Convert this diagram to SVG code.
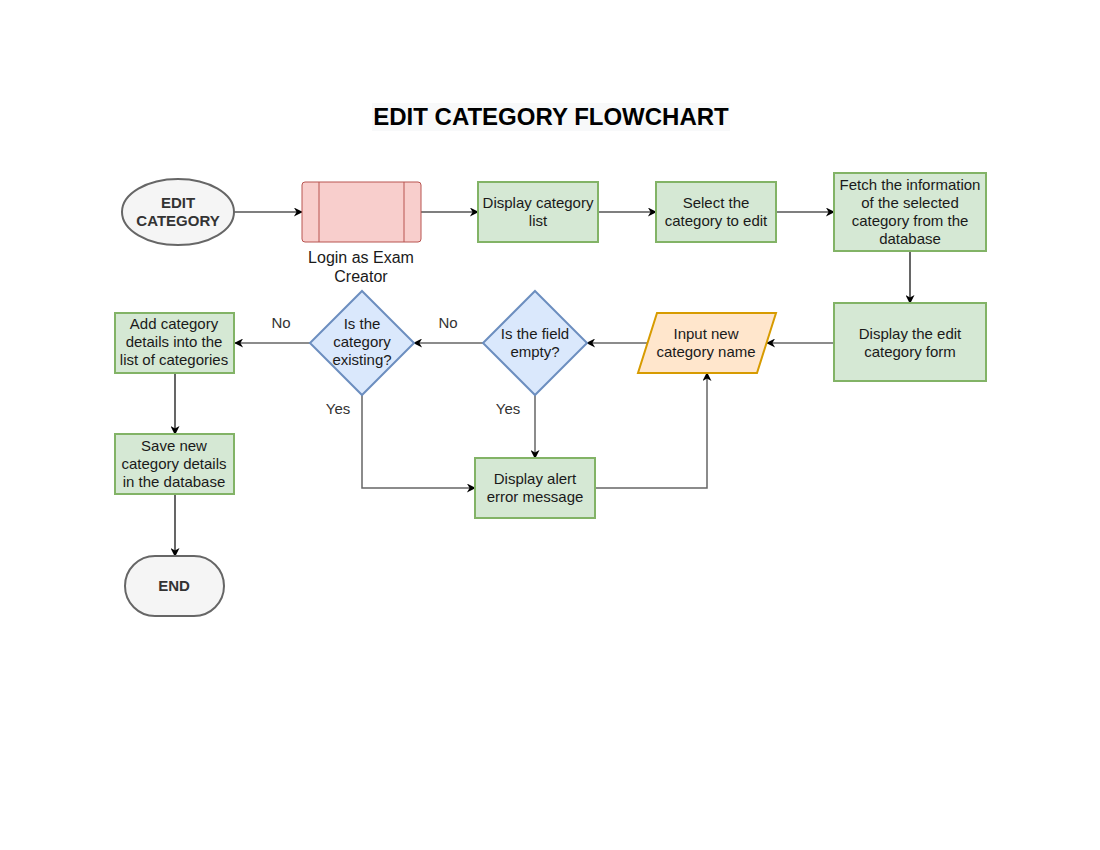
<svg xmlns="http://www.w3.org/2000/svg" width="1100" height="850" viewBox="0 0 1100 850">
<style>
text{font-family:"Liberation Sans",Arial,sans-serif;font-size:15px;fill:#1a1a1a;text-anchor:middle}
.green{fill:#d5e8d4;stroke:#82b366;stroke-width:2}
.gray{fill:#f5f5f5;stroke:#666;stroke-width:2}
.dia{fill:#dae8fc;stroke:#6c8ebf;stroke-width:2}
.c{fill:none;stroke:#000;stroke-width:1.2}
.c2{fill:none;stroke:#666;stroke-width:1.5}
.lbl{fill:#333}
.b{font-weight:bold;fill:#333}
</style>
<defs>
<marker id="a" viewBox="0 0 10 10" refX="9" refY="5" markerWidth="10" markerHeight="9" orient="auto" markerUnits="userSpaceOnUse">
<path d="M0,0 L10,5 L0,10 L3,5 Z" fill="#000"/>
</marker>
</defs>
<rect width="1100" height="850" fill="#fff"/>
<g id="title">
<rect x="372" y="103" width="358" height="28" fill="#f8f9fa"/>
<text x="551" y="125" style="font-size:24px;font-weight:bold;fill:#000">EDIT CATEGORY FLOWCHART</text>
</g>
<g id="connectors">
<path class="c" d="M234,212 H302" marker-end="url(#a)"/>
<path class="c" d="M421,212 H478" marker-end="url(#a)"/>
<path class="c" d="M598,212 H656" marker-end="url(#a)"/>
<path class="c" d="M776,212 H834" marker-end="url(#a)"/>
<path class="c" d="M910,251 V303" marker-end="url(#a)"/>
<path class="c2" d="M834,343 H767" marker-end="url(#a)"/>
<path class="c2" d="M647,343 H587" marker-end="url(#a)"/>
<path class="c2" d="M483,343 H414" marker-end="url(#a)"/>
<path class="c2" d="M310,343 H235" marker-end="url(#a)"/>
<path class="c2" d="M535,395 V458" marker-end="url(#a)"/>
<path class="c2" d="M362,395 V488 H475" marker-end="url(#a)"/>
<path class="c2" d="M595,488 H707 V373" marker-end="url(#a)"/>
<path class="c" d="M175,373 V434" marker-end="url(#a)"/>
<path class="c" d="M175,494 V556" marker-end="url(#a)"/>
<text class="lbl" x="448" y="328">No</text>
<text class="lbl" x="281" y="328">No</text>
<text class="lbl" x="338" y="414">Yes</text>
<text class="lbl" x="508" y="414">Yes</text>
</g>
<g id="start">
<ellipse class="gray" cx="178" cy="212" rx="56" ry="33"/>
<text class="b" x="178" y="208">EDIT</text>
<text class="b" x="178" y="226">CATEGORY</text>
</g>
<g id="login">
<rect x="302" y="182" width="119" height="60" rx="3" fill="#f8cecc" stroke="#b85450" stroke-width="1"/>
<path d="M319,182 V242 M404,182 V242" stroke="#b85450" stroke-width="1"/>
<text x="361" y="263" style="font-size:16px">Login as Exam</text>
<text x="361" y="282" style="font-size:16px">Creator</text>
</g>
<g id="display-list">
<rect class="green" x="478" y="182" width="120" height="60"/>
<text x="538" y="208">Display category</text>
<text x="538" y="226">list</text>
</g>
<g id="select">
<rect class="green" x="656" y="182" width="120" height="60"/>
<text x="716" y="208">Select the</text>
<text x="716" y="226">category to edit</text>
</g>
<g id="fetch">
<rect class="green" x="834" y="173" width="152" height="78"/>
<text x="910" y="190">Fetch the information</text>
<text x="910" y="208">of the selected</text>
<text x="910" y="226">category from the</text>
<text x="910" y="244">database</text>
</g>
<g id="edit-form">
<rect class="green" x="834" y="303" width="152" height="78"/>
<text x="910" y="339">Display the edit</text>
<text x="910" y="357">category form</text>
</g>
<g id="input">
<path d="M657,313 H776 L757,373 H638 Z" fill="#ffe6cc" stroke="#d79b00" stroke-width="2"/>
<text x="706" y="339">Input new</text>
<text x="706" y="357">category name</text>
</g>
<g id="field-empty">
<path class="dia" d="M535,291 L587,343 L535,395 L483,343 Z"/>
<text x="535" y="339">Is the field</text>
<text x="535" y="357">empty?</text>
</g>
<g id="cat-exist">
<path class="dia" d="M362,291 L414,343 L362,395 L310,343 Z"/>
<text x="362" y="329">Is the</text>
<text x="362" y="347">category</text>
<text x="362" y="365">existing?</text>
</g>
<g id="alert">
<rect class="green" x="475" y="458" width="120" height="60"/>
<text x="535" y="484">Display alert</text>
<text x="535" y="502">error message</text>
</g>
<g id="add">
<rect class="green" x="115" y="313" width="119" height="60"/>
<text x="174" y="329">Add category</text>
<text x="174" y="347">details into the</text>
<text x="174" y="365">list of categories</text>
</g>
<g id="save">
<rect class="green" x="115" y="434" width="119" height="60"/>
<text x="174" y="451">Save new</text>
<text x="174" y="469">category details</text>
<text x="174" y="487">in the database</text>
</g>
<g id="end">
<rect class="gray" x="125" y="556" width="99" height="60" rx="30"/>
<text class="b" x="174" y="591">END</text>
</g>
</svg>
